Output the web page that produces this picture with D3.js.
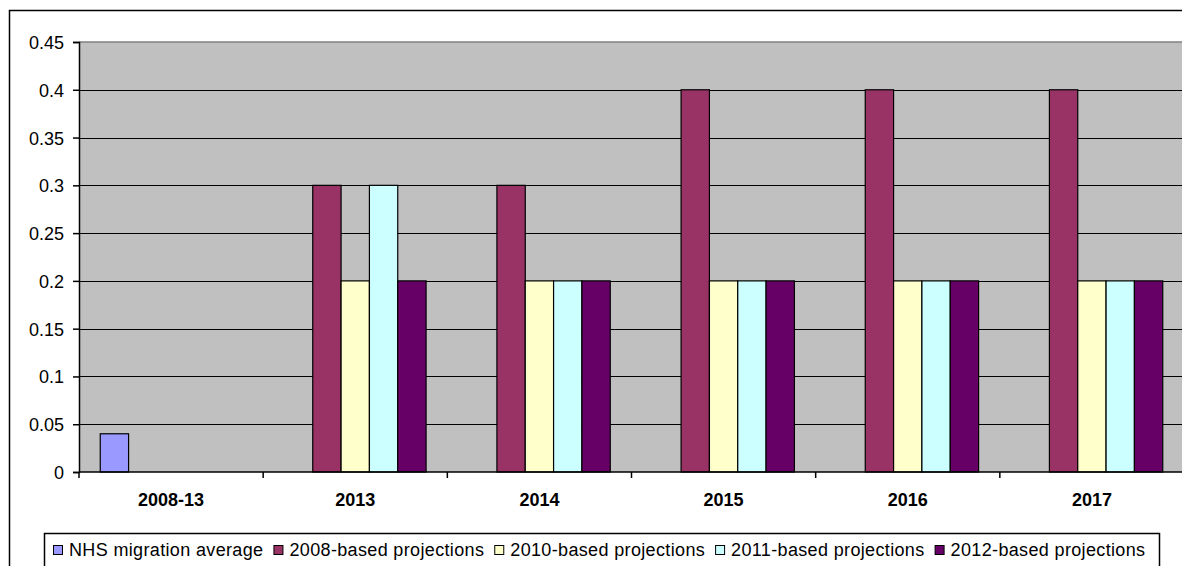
<!DOCTYPE html>
<html>
<head>
<meta charset="utf-8">
<script src="https://cdn.jsdelivr.net/npm/d3@7"></script>
<style>
  html, body { margin: 0; padding: 0; background: #fff; }
  svg { display: block; }
  text { font-family: Arial, "Liberation Sans", sans-serif; }
</style>
</head>
<body>
<svg id="chart" width="1182" height="566"></svg>
<script>
// Categories along the x axis
const categories = ["2008-13", "2013", "2014", "2015", "2016", "2017"];

// Series names and values (null = no bar in that category)
const seriesNames = [
  "NHS migration average",
  "2008-based projections",
  "2010-based projections",
  "2011-based projections",
  "2012-based projections"
];
const nhsAverage   = [0.04, null, null, null, null, null];
const proj2008     = [null, 0.3, 0.3, 0.4, 0.4, 0.4];
const proj2010     = [null, 0.2, 0.2, 0.2, 0.2, 0.2];
const proj2011     = [null, 0.3, 0.2, 0.2, 0.2, 0.2];
const proj2012     = [null, 0.2, 0.2, 0.2, 0.2, 0.2];
const seriesColors = ["#9999FF", "#993366", "#FFFFCC", "#CCFFFF", "#660066"];

// Y axis tick labels
const yTickValues = [0, 0.05, 0.1, 0.15, 0.2, 0.25, 0.3, 0.35, 0.4, 0.45];
const yTickLabels = ["0", "0.05", "0.1", "0.15", "0.2", "0.25", "0.3", "0.35", "0.4", "0.45"];

const seriesValues = [nhsAverage, proj2008, proj2010, proj2011, proj2012];

const svg = d3.select("#chart");

// Outer chart frame
svg.append("rect")
  .attr("x", 9.5).attr("y", 10.5)
  .attr("width", 1200).attr("height", 600)
  .attr("fill", "#fff").attr("stroke", "#000").attr("stroke-width", 1.5);

const plot = { left: 79, top: 42, width: 1105, height: 430 };

const x = d3.scaleBand()
  .domain(categories)
  .range([plot.left, plot.left + plot.width])
  .paddingInner(0).paddingOuter(0);

// Five slots per category with a 150% gap split on both sides
const slotCount = seriesNames.length;
const barW = x.bandwidth() / (slotCount + 1.5);
const xSeries = d3.scaleBand()
  .domain(d3.range(slotCount))
  .range([barW * 0.75, x.bandwidth() - barW * 0.75])
  .padding(0);

const y = d3.scaleLinear()
  .domain([0, 0.45])
  .range([plot.top + plot.height, plot.top]);

const g = svg.append("g");

// Plot background
g.append("rect")
  .attr("x", plot.left).attr("y", plot.top)
  .attr("width", plot.width).attr("height", plot.height)
  .attr("fill", "#C0C0C0");

// Top border of plot area
g.append("line")
  .attr("x1", plot.left).attr("x2", plot.left + plot.width)
  .attr("y1", y(0.45)).attr("y2", y(0.45))
  .attr("stroke", "#808080").attr("stroke-width", 1.5);

// Horizontal gridlines
g.selectAll("line.grid")
  .data(yTickValues.filter(v => v > 0 && v < 0.45))
  .enter().append("line")
  .attr("class", "grid")
  .attr("x1", plot.left).attr("x2", plot.left + plot.width)
  .attr("y1", d => Math.round(y(d)) + 0.5).attr("y2", d => Math.round(y(d)) + 0.5)
  .attr("stroke", "#000").attr("stroke-width", 1.2);

// Bars
const barData = [];
seriesValues.forEach((vals, si) => {
  vals.forEach((v, ci) => {
    if (v !== null) barData.push({ s: si, c: categories[ci], v: v });
  });
});

g.selectAll("rect.bar")
  .data(barData)
  .enter().append("rect")
  .attr("class", "bar")
  .attr("x", d => x(d.c) + xSeries(d.s))
  .attr("width", xSeries.bandwidth())
  .attr("y", d => y(d.v))
  .attr("height", d => y(0) - y(d.v))
  .attr("fill", d => seriesColors[d.s])
  .attr("stroke", "#000").attr("stroke-width", 1.2);

// Y axis
const yAxis = d3.axisLeft(y)
  .tickValues(yTickValues)
  .tickFormat((d, i) => yTickLabels[i])
  .tickSize(6)
  .tickPadding(9);
const yg = svg.append("g")
  .attr("transform", `translate(${plot.left},0)`)
  .call(yAxis);
yg.select(".domain").attr("stroke", "#000").attr("stroke-width", 1.5);
yg.selectAll(".tick line").attr("stroke", "#000").attr("stroke-width", 1.5);
yg.selectAll(".tick text")
  .attr("font-size", 18)
  .attr("fill", "#000")
  .attr("dy", "0.36em");

// X axis with ticks at category boundaries
const xg = svg.append("g")
  .attr("transform", `translate(0,${y(0)})`);
xg.append("line")
  .attr("x1", plot.left).attr("x2", plot.left + plot.width)
  .attr("y1", 0).attr("y2", 0)
  .attr("stroke", "#000").attr("stroke-width", 1.5);
const boundaries = categories.map(c => x(c)).concat([plot.left + plot.width]);
xg.selectAll("line.tick")
  .data(boundaries)
  .enter().append("line")
  .attr("class", "tick")
  .attr("x1", d => d).attr("x2", d => d)
  .attr("y1", 0).attr("y2", 6)
  .attr("stroke", "#000").attr("stroke-width", 1.5);
xg.selectAll("text")
  .data(categories)
  .enter().append("text")
  .attr("x", d => x(d) + x.bandwidth() / 2)
  .attr("y", 34)
  .attr("text-anchor", "middle")
  .attr("font-size", 18)
  .attr("font-weight", "bold")
  .attr("fill", "#000")
  .text(d => d);

// Legend
const legend = svg.append("g");
legend.append("rect")
  .attr("x", 44.5).attr("y", 533.5)
  .attr("width", 1115).attr("height", 60)
  .attr("fill", "#fff").attr("stroke", "#000").attr("stroke-width", 1.5);

let lx = 53;
seriesNames.forEach((name, i) => {
  legend.append("rect")
    .attr("x", lx + 0.5).attr("y", 545.5)
    .attr("width", 9).attr("height", 9)
    .attr("fill", seriesColors[i])
    .attr("stroke", "#000").attr("stroke-width", 1);
  const t = legend.append("text")
    .attr("x", lx + 16)
    .attr("y", 556)
    .attr("font-size", 18)
    .attr("letter-spacing", 0.35)
    .attr("fill", "#000")
    .text(name);
  lx = lx + 16 + t.node().getComputedTextLength() + 10;
});
</script>
</body>
</html>
